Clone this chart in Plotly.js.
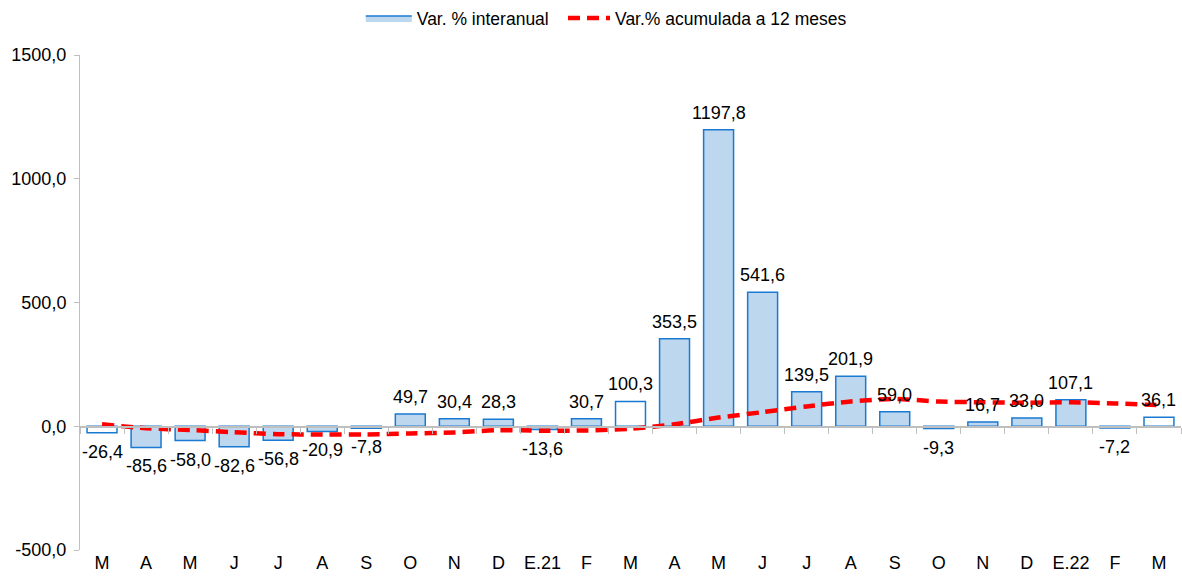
<!DOCTYPE html>
<html>
<head>
<meta charset="utf-8">
<script src="https://cdn.plot.ly/plotly-3.0.1.min.js"></script>
<style>html,body{margin:0;padding:0;background:#fff;}#chart{width:1182px;height:583px;}</style>
</head>
<body>
<div id="chart"></div>
<script>
const monthLabels = ["M","A","M","J","J","A","S","O","N","D","E.21","F","M","A","M","J","J","A","S","O","N","D","E.22","F","M"];
const interanual = [-26.4,-85.6,-58.0,-82.6,-56.8,-20.9,-7.8,49.7,30.4,28.3,-13.6,30.7,100.3,353.5,1197.8,541.6,139.5,201.9,59.0,-9.3,16.7,33.0,107.1,-7.2,36.1];
const acumulada12 = [8,-8,-15,-24,-32,-33,-33,-29,-25,-16,-18,-17,-10,8,35,57,80,100,110,100,97,95,97,92,85];
const whiteBars = [0,12,24];
const yTicks = [-500,0,500,1000,1500];

const idx = monthLabels.map((_, i) => i);
const fmt = v => v.toFixed(1).replace('.', ',');
const barColors = idx.map(i => whiteBars.includes(i) ? '#FFFFFF' : '#BDD7EE');
const font = "Liberation Sans, Arial, sans-serif";
const barLine = '#1A7AD2';

const traces = [
  {
    type: 'bar', name: 'Var. % interanual', x: idx, y: interanual, showlegend: false,
    marker: {color: barColors, line: {color: barLine, width: 1.5}},
    hoverinfo: 'skip'
  },
  {
    type: 'scatter', mode: 'lines', name: 'Var. % interanual', x: [null], y: [null],
    fill: 'toself', fillcolor: '#BDD7EE', line: {color: barLine, width: 1.5},
    legend: 'legend', hoverinfo: 'skip'
  },
  {
    type: 'scatter', mode: 'lines', name: 'Var.% acumulada a 12 meses',
    x: idx, y: acumulada12, xaxis: 'x2', legend: 'legend2',
    line: {color: '#FF0000', width: 4.5, dash: '12px,7px', shape: 'spline', smoothing: 0.8},
    hoverinfo: 'skip'
  }
];

const annotations = interanual.map((v, i) => ({
  x: i, y: v, xref: 'x', yref: 'y', text: fmt(v), showarrow: false,
  yanchor: v >= 0 ? 'bottom' : 'top', yshift: v >= 0 ? 5 : -7,
  font: {family: font, size: 18, color: '#000'}
}));

const legendBase = {orientation: 'h', xanchor: 'left', y: 1, yref: 'container', yanchor: 'top',
                    font: {family: font, size: 17.5}, bgcolor: 'rgba(0,0,0,0)'};

const layout = {
  width: 1182, height: 583,
  margin: {l: 80, r: 1, t: 55, b: 33},
  paper_bgcolor: '#fff', plot_bgcolor: '#fff',
  font: {family: font, size: 18, color: '#000'},
  bargap: 0.32,
  showlegend: true,
  annotations: annotations,
  legend: Object.assign({}, legendBase, {x: 0.255, itemwidth: 46}),
  legend2: Object.assign({}, legendBase, {x: 0.4387, itemwidth: 42}),
  xaxis: {
    range: [-0.5, 24.5], tickvals: idx, ticktext: monthLabels,
    showline: false, showgrid: false, zeroline: false, ticks: '',
    tickfont: {family: font, size: 18}, fixedrange: true
  },
  xaxis2: {
    overlaying: 'x', anchor: 'free', position: 0.25, side: 'bottom',
    range: [-0.5, 24.5], tickvals: idx.map(i => i - 0.5).concat([24.5]),
    showticklabels: false, ticks: 'outside', ticklen: 6, tickcolor: '#BFBFBF',
    showline: true, linecolor: '#BFBFBF', linewidth: 1.5, showgrid: false, zeroline: false
  },
  yaxis: {
    range: [-500, 1500], tickvals: yTicks, ticktext: yTicks.map(fmt),
    showline: true, linecolor: '#BFBFBF', linewidth: 1, ticks: 'outside', ticklen: 5, tickcolor: '#BFBFBF',
    showgrid: false, zeroline: false, tickfont: {family: font, size: 18}, ticklabelstandoff: 4
  }
};

Plotly.newPlot('chart', traces, layout, {displayModeBar: false, staticPlot: true});
</script>
</body>
</html>
